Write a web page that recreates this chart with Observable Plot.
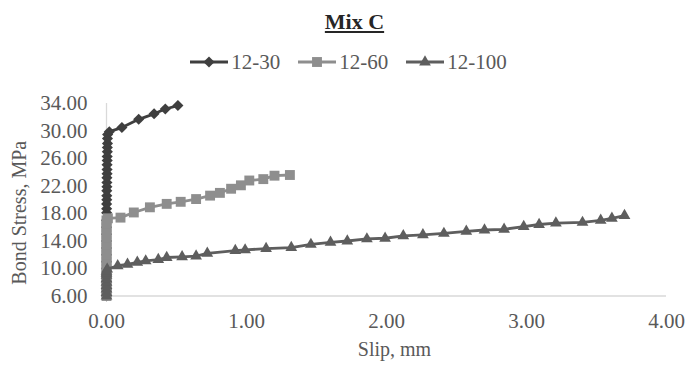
<!DOCTYPE html>
<html>
<head>
<meta charset="utf-8">
<script src="https://cdn.jsdelivr.net/npm/d3@7"></script>
<script src="https://cdn.jsdelivr.net/npm/@observablehq/plot@0.6"></script>
<style>
  html, body { margin: 0; padding: 0; background: #fff; }
  #wrap { width: 689px; height: 365px; position: relative; font-family: "Liberation Serif", "Times New Roman", serif; color: #595959; }
  #title { height: 44px; line-height: 44px; text-align: center; padding-left: 20px; font-size: 22px; font-weight: bold; color: #262626; }
  #title span { text-decoration: underline; }
  #legend { height: 36px; display: flex; justify-content: center; align-items: center; padding-left: 8px; font-size: 21px; gap: 18px; }
  .item { display: flex; align-items: center; gap: 3px; }
  #chart svg { display: block; }
  #chart svg text { font-family: "Liberation Serif", "Times New Roman", serif; }
</style>
</head>
<body>
<div id="wrap">
  <div id="title"><span>Mix C</span></div>
  <div id="legend"></div>
  <div id="chart"></div>
</div>
<script>
// ---- data ----
const seriesNames = ["12-30", "12-60", "12-100"];
const seriesColors = ["#3f3f3f", "#8e8e8e", "#5e5e5e"];
const seriesSymbols = ["diamond2", "square2", "triangle2"];

const slip30 = [0.000, 0.000, 0.000, 0.000, 0.000, 0.000, 0.000, 0.000, 0.000, 0.000, 0.000, 0.000,
  0.001, 0.001, 0.001, 0.002, 0.002, 0.002, 0.003, 0.003, 0.003, 0.004, 0.004, 0.004, 0.005, 0.005, 0.006, 0.006, 0.007, 0.007, 0.008,
  0.02, 0.11, 0.23, 0.34, 0.42, 0.51];
const stress30 = [6.0, 7.0, 8.0, 9.0, 10.0, 11.0, 12.0, 13.0, 14.0, 15.0, 16.0, 17.0,
  18.1, 18.7, 19.4, 20.0, 20.6, 21.3, 21.9, 22.5, 23.2, 23.8, 24.4, 25.1, 25.7, 26.3, 27.0, 27.6, 28.2, 28.9, 29.5,
  29.9, 30.5, 31.7, 32.5, 33.2, 33.7];

const slip60 = [0.000, 0.000, 0.000, 0.000, 0.000, 0.000, 0.000, 0.000, 0.000, 0.000, 0.000, 0.000, 0.000, 0.000, 0.000, 0.000, 0.000, 0.000, 0.000, 0.000, 0.000, 0.000, 0.000,
  0.01, 0.10, 0.195, 0.31, 0.43, 0.53, 0.64, 0.74, 0.81, 0.89, 0.96, 1.02, 1.12, 1.20, 1.31];
const stress60 = [6.0, 6.5, 7.0, 7.5, 8.0, 8.5, 9.0, 9.5, 10.0, 10.5, 11.0, 11.5, 12.0, 12.5, 13.0, 13.5, 14.0, 14.5, 15.0, 15.5, 16.0, 16.5, 17.0,
  17.3, 17.4, 18.15, 18.9, 19.4, 19.7, 20.1, 20.6, 21.0, 21.6, 22.1, 22.8, 23.0, 23.5, 23.6];

const slip100 = [0.000, 0.000, 0.000, 0.000, 0.000, 0.000, 0.000, 0.000, 0.000,
  0.005, 0.08, 0.15, 0.22, 0.28, 0.37, 0.43, 0.54, 0.64, 0.72, 0.92, 0.99, 1.14, 1.32, 1.46, 1.60, 1.72, 1.86, 1.99, 2.12, 2.26, 2.41, 2.57, 2.70, 2.84, 2.98, 3.09, 3.21, 3.40, 3.53, 3.61, 3.70];
const stress100 = [6.0, 6.5, 7.0, 7.5, 8.0, 8.5, 9.0, 9.3, 9.6,
  9.9, 10.4, 10.6, 10.9, 11.1, 11.3, 11.6, 11.7, 11.8, 12.2, 12.6, 12.7, 12.9, 13.05, 13.5, 13.8, 14.0, 14.3, 14.4, 14.75, 14.9, 15.1, 15.4, 15.6, 15.7, 16.1, 16.4, 16.6, 16.7, 17.0, 17.3, 17.7];

const xTicks = [0, 1, 2, 3, 4];
const yTicks = [6, 10, 14, 18, 22, 26, 30, 34];

// ---- build ----
const allSlips = [slip30, slip60, slip100];
const allStress = [stress30, stress60, stress100];
const markerR = [5.0, 6.3, 5.6];
const fmt = d3.format(".2f");
const serif = "Liberation Serif, Times New Roman, serif";

const tables = allSlips.map((sl, i) => sl.map((s, j) => ({slip: s, stress: allStress[i][j], series: seriesNames[i]})));

const marks = [];
const hasAxisMarks = typeof Plot.axisX === "function";
if (hasAxisMarks) {
  marks.push(Plot.axisX(xTicks, {tickFormat: fmt, tickSize: 0, tickPadding: 17, fontSize: 21, fontFamily: serif, fill: "#595959", label: null}));
  marks.push(Plot.axisY(yTicks, {tickFormat: fmt, tickSize: 0, tickPadding: 19, fontSize: 21, fontFamily: serif, fill: "#595959", label: null}));
}
marks.push(Plot.ruleY([6], {stroke: "#d9d9d9", strokeWidth: 1.3}));
marks.push(Plot.ruleX([0], {stroke: "#d9d9d9", strokeWidth: 1.3}));
tables.forEach((t, i) => {
  marks.push(Plot.line(t, {x: "slip", y: "stress", stroke: seriesColors[i], strokeWidth: 2.8}));
  marks.push(Plot.dot(t, {x: "slip", y: "stress", fill: seriesColors[i], stroke: "none", symbol: seriesSymbols[i], r: markerR[i]}));
});
marks.push(Plot.text(["Slip, mm"], {frameAnchor: "bottom", lineAnchor: "middle", dx: 8, dy: 54, fill: "#595959", fontSize: 20, fontFamily: serif}));
marks.push(Plot.text(["Bond Stress, MPa"], {frameAnchor: "left", textAnchor: "middle", lineAnchor: "middle", rotate: -90, dx: -87, dy: 13, fill: "#595959", fontSize: 20, fontFamily: serif}));

const chart = Plot.plot({
  width: 689,
  height: 285,
  marginTop: 23,
  marginBottom: 69.5,
  marginLeft: 106,
  marginRight: 23,
  style: {fontFamily: serif, fontSize: "21px", color: "#595959", background: "#fff"},
  x: {domain: [0, 4], ticks: xTicks, tickFormat: fmt, tickSize: 0, tickPadding: 17, label: null},
  y: {domain: [6, 34], ticks: yTicks, tickFormat: fmt, tickSize: 0, tickPadding: 19, label: null},
  marks
});
document.getElementById("chart").appendChild(chart);

// ---- legend ----
const legend = document.getElementById("legend");
const symMap = {diamond2: d3.symbolDiamond2, square2: d3.symbolSquare2, triangle2: d3.symbolTriangle2};
seriesNames.forEach((name, i) => {
  const item = document.createElement("div");
  item.className = "item";
  const sw = d3.create("svg").attr("width", 38).attr("height", 14);
  sw.append("line").attr("x1", 0).attr("x2", 38).attr("y1", 7).attr("y2", 7).attr("stroke", seriesColors[i]).attr("stroke-width", 3);
  const size = Math.PI * markerR[i] * markerR[i];
  sw.append("path").attr("transform", "translate(19,7)").attr("d", d3.symbol(symMap[seriesSymbols[i]], size)()).attr("fill", seriesColors[i]);
  item.appendChild(sw.node());
  const lab = document.createElement("span");
  lab.textContent = name;
  item.appendChild(lab);
  legend.appendChild(item);
});
</script>
</body>
</html>
